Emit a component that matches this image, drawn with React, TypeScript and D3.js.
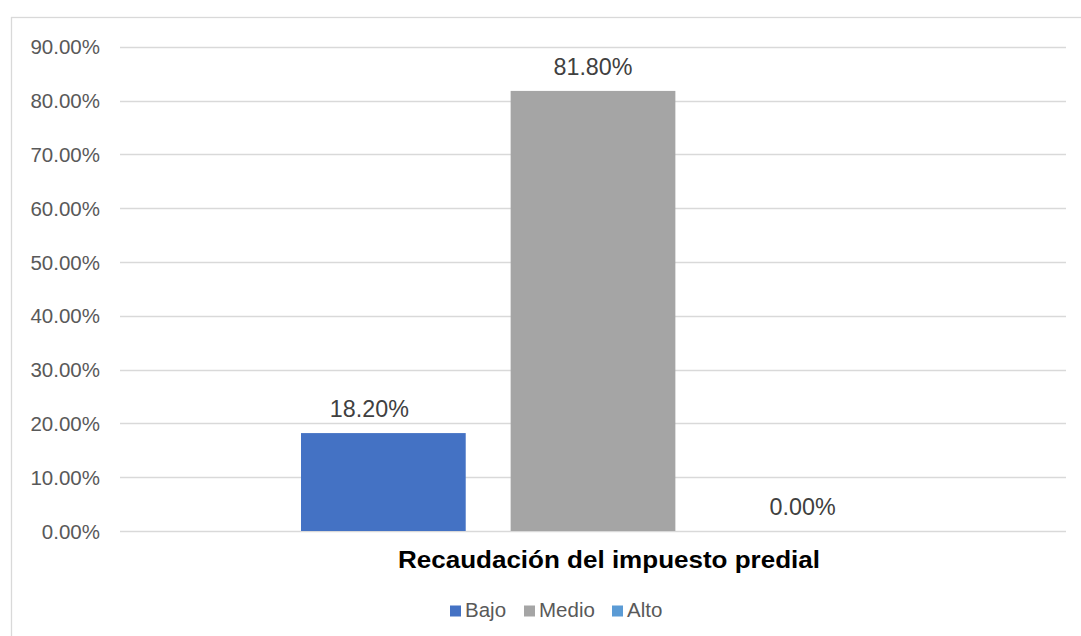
import React from "react";
import * as d3 from "d3";

const categories = ["Bajo", "Medio", "Alto"];
const values = [18.2, 81.8, 0.0];
const colors = ["#4472C4", "#A5A5A5", "#5B9BD5"];
const yTicks = [0, 10, 20, 30, 40, 50, 60, 70, 80, 90];
const axisTitle = "Recaudación del impuesto predial";

export default function App() {
  const W = 1081, H = 636;
  const plotL = 120, plotR = 1066, plotT = 46.8, plotB = 531;
  const y = d3.scaleLinear().domain([0, 90]).range([plotB, plotT]);
  const x = d3.scaleBand<string>().domain(categories).range([301, 885]).paddingInner(45 / 210).paddingOuter(0);
  const font = "'Liberation Sans', Arial, sans-serif";
  const legendX = [450, 524, 612];
  const labelDx = [-14, 0, 0];
  return (
    <svg width={W} height={H} style={{ position: "absolute", left: 0, top: 0, background: "#fff" }} fontFamily={font}>
      <rect x={11.5} y={17.5} width={1200} height={700} fill="#fff" stroke="#D9D9D9" strokeWidth={1.3} />
      {yTicks.map((t) => (
        <g key={t}>
          <line x1={plotL} x2={plotR} y1={Math.round(y(t)) + 0.5} y2={Math.round(y(t)) + 0.5} stroke="#D9D9D9" strokeWidth={1.3} />
          <text x={100} y={y(t) + 7.5} textAnchor="end" fontSize={20.5} fill="#595959">
            {d3.format(".2f")(t)}%
          </text>
        </g>
      ))}
      {categories.map((c, i) => (
        <g key={c}>
          <rect x={x(c)} y={y(values[i])} width={x.bandwidth()} height={y(0) - y(values[i])} fill={colors[i]} />
          <text x={(x(c) as number) + x.bandwidth() / 2 + labelDx[i]} y={y(values[i]) - 16} textAnchor="middle" fontSize={23.3} fill="#404040">
            {d3.format(".2f")(values[i])}%
          </text>
        </g>
      ))}
      <text x={398} y={568} fontSize={24} fontWeight="bold" fill="#000" textLength={422} lengthAdjust="spacingAndGlyphs">
        {axisTitle}
      </text>
      {categories.map((c, i) => (
        <g key={"lg" + c}>
          <rect x={legendX[i]} y={605.5} width={11} height={11} fill={colors[i]} />
          <text x={legendX[i] + 15} y={617} fontSize={20.5} fill="#595959">
            {c}
          </text>
        </g>
      ))}
    </svg>
  );
}
